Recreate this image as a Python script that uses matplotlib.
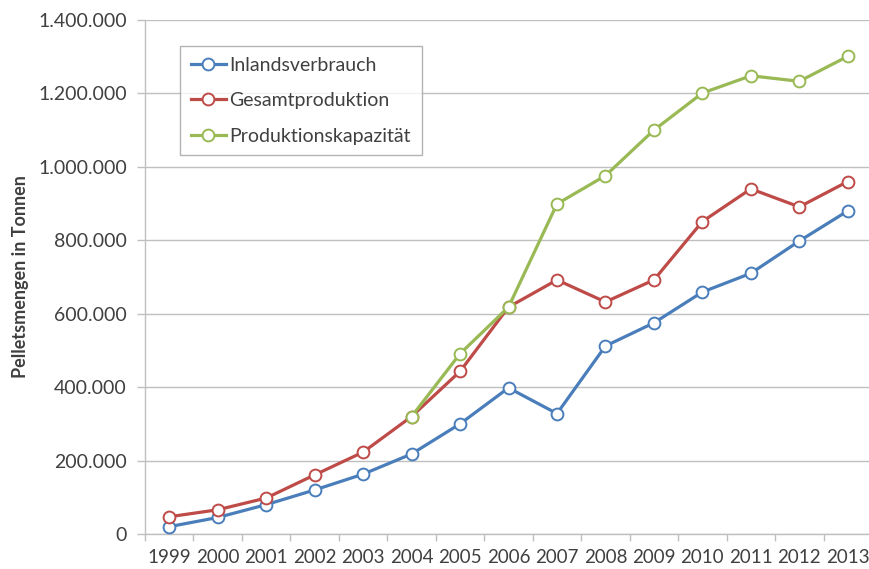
import numpy as np
import matplotlib
matplotlib.use("Agg")
from matplotlib import pyplot as plt
from matplotlib.ticker import FuncFormatter, FixedLocator

# Data (tonnes)
years = ['1999', '2000', '2001', '2002', '2003', '2004', '2005', '2006',
         '2007', '2008', '2009', '2010', '2011', '2012', '2013']
inland = [20000, 45000, 80000, 120000, 163000, 218000, 300000, 398000,
          328000, 512000, 575000, 659000, 710000, 798000, 880000]
production = [47000, 66000, 98000, 161000, 223000, 320000, 443000, 618000,
              692000, 632000, 692000, 851000, 940000, 891000, 960000]
capacity = [np.nan, np.nan, np.nan, np.nan, np.nan, 320000, 491000, 618000,
            899000, 976000, 1100000, 1201000, 1248000, 1233000, 1301000]

labels = ['Inlandsverbrauch', 'Gesamtproduktion', 'Produktionskapazität']
colors = ['#4a7ebb', '#be4b48', '#98b954']
ytick_vals = [0, 200000, 400000, 600000, 800000, 1000000, 1200000, 1400000]

plt.rcParams['font.family'] = ['Lato', 'DejaVu Sans']
text_col = '#404040'
grid_col = '#bfbfbf'

fig = plt.figure(figsize=(8.7, 5.69), dpi=100)
ax = fig.add_axes([0.1667, 0.0615, 0.8356, 0.9034])

x = np.arange(len(years))
for vals, lab, col in zip([inland, production, capacity], labels, colors):
    ax.plot(x, vals, color=col, lw=2.3, marker='o', ms=8.5,
            markerfacecolor='white', markeredgecolor=col, markeredgewidth=1.4,
            label=lab, zorder=3)

ax.set_xlim(-0.5, len(years) - 0.5)
ax.set_ylim(0, 1400000)

ax.set_xticks(x)
ax.set_xticklabels(years)
ax.xaxis.set_minor_locator(FixedLocator(np.arange(-0.5, len(years), 1.0)))
ax.tick_params(axis='x', which='major', length=0, pad=11, labelsize=13.5,
               labelcolor=text_col)
ax.tick_params(axis='x', which='minor', length=5, width=1, color=grid_col,
               direction='out')

ax.set_yticks(ytick_vals)
ax.yaxis.set_major_formatter(
    FuncFormatter(lambda v, p: f'{int(v):,}'.replace(',', '.')))
ax.tick_params(axis='y', length=6, width=1, color=grid_col, pad=7,
               labelsize=14, labelcolor=text_col)

ax.grid(axis='y', color=grid_col, lw=1)
ax.set_axisbelow(True)
for s in ['top', 'right']:
    ax.spines[s].set_visible(False)
for s in ['left', 'bottom']:
    ax.spines[s].set_color(grid_col)
    ax.spines[s].set_linewidth(1)

ax.set_ylabel('Pelletsmengen in Tonnen', fontsize=13, fontweight='bold',
              color=text_col, labelpad=7)

leg = ax.legend(loc='upper left', bbox_to_anchor=(180 / 870, 1 - 46 / 569),
                bbox_transform=fig.transFigure, borderaxespad=0,
                fontsize=14, frameon=True, fancybox=False,
                handlelength=1.8, handletextpad=0.2, labelspacing=0.95,
                borderpad=0.55)
leg.get_frame().set_edgecolor('#a0a0a0')
leg.get_frame().set_linewidth(1)
for t in leg.get_texts():
    t.set_color(text_col)

fig.savefig('out.png', dpi=100)
